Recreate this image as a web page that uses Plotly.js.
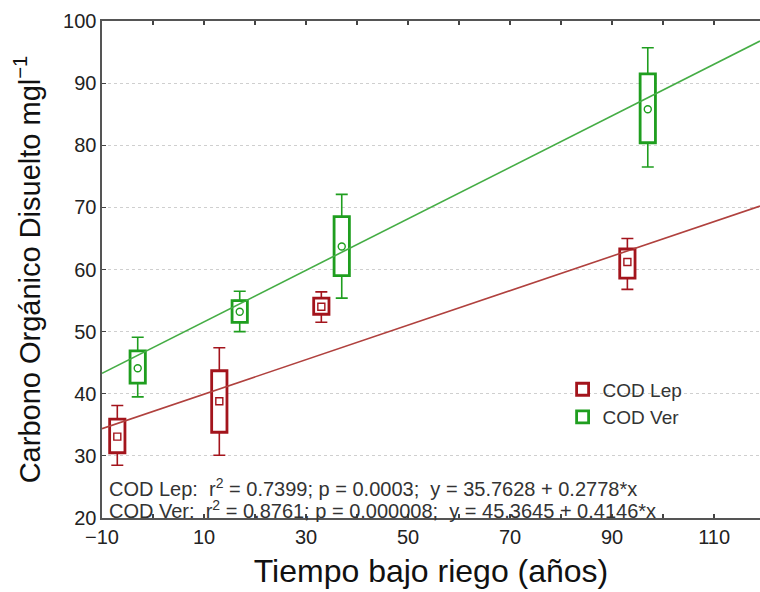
<!DOCTYPE html>
<html>
<head>
<meta charset="utf-8">
<script src="https://cdn.plot.ly/plotly-3.0.1.min.js"></script>
<style>
html,body{margin:0;padding:0;background:#fff;overflow:hidden;}
#chart{width:760px;height:592px;}
</style>
</head>
<body>
<div id="chart"></div>
<script>
// ---- data ----
const tiempo = [0, 20, 40, 100];            // years under irrigation (groups)
const seriesNames = ['COD Lep', 'COD Ver'];

const lepMin = [28.5, 30.1, 51.5, 56.8];
const lepQ1  = [30.5, 33.8, 52.8, 58.6];
const lepMed = [33.1, 38.8, 54.0, 61.2];
const lepQ3  = [35.9, 43.7, 55.4, 63.3];
const lepMax = [38.1, 47.4, 56.4, 65.0];

const verMin = [39.5, 50.0, 55.4, 76.5];
const verQ1  = [41.7, 51.5, 59.0, 80.4];
const verMed = [44.1, 53.2, 63.7, 85.8];
const verQ3  = [46.9, 55.0, 68.5, 91.5];
const verMax = [49.1, 56.5, 72.1, 95.7];

const fitR2 = ['0.7399', '0.8761'];
const fitP  = ['0.0003', '0.000008'];
const fitA  = [35.7628, 45.3645];
const fitB  = [0.2778, 0.4146];

const xTickVals = [-10, 10, 30, 50, 70, 90, 110];
const yTickVals = [20, 30, 40, 50, 60, 70, 80, 90, 100];

// ---- presentation ----
const RED = '#a3141c', GREEN = '#1f9e1f';
const RED_LINE = '#b0413e', GREEN_LINE = '#45ad45';
const X_MIN = -10, X_MAX = 119.0;
const SHIFT = -5;      // group centre offset used in the original plot
const DODGE = 2;       // side-by-side offset of the two series
const FONT = 'Liberation Sans, Arial, sans-serif';

function sub(a, b) { return a.map((v, i) => v - b[i]); }
const zeros = tiempo.map(() => 0);

function series(k, color, q1, med, q3, mn, mx, symbol) {
  const xs = tiempo.map(t => t + SHIFT + (k === 0 ? -DODGE : DODGE));
  const out = [];
  out.push({
    type: 'bar', name: seriesNames[k], x: xs, base: q1, y: sub(q3, q1), width: 3,
    marker: {color: '#ffffff', line: {color: color, width: 2.8}},
    hoverinfo: 'skip', showlegend: true, legendgroup: seriesNames[k]
  });
  out.push({
    type: 'scatter', mode: 'markers', x: xs, y: q3, showlegend: false, hoverinfo: 'skip',
    marker: {color: 'rgba(0,0,0,0)', size: 1},
    error_y: {type: 'data', symmetric: false, array: sub(mx, q3), arrayminus: zeros,
              width: 6, thickness: 1.6, color: color}
  });
  out.push({
    type: 'scatter', mode: 'markers', x: xs, y: q1, showlegend: false, hoverinfo: 'skip',
    marker: {color: 'rgba(0,0,0,0)', size: 1},
    error_y: {type: 'data', symmetric: false, array: zeros, arrayminus: sub(q1, mn),
              width: 6, thickness: 1.6, color: color}
  });
  out.push({
    type: 'scatter', mode: 'markers', x: xs, y: med, showlegend: false, hoverinfo: 'skip',
    marker: {symbol: symbol, size: 7, color: color, line: {color: color, width: 1.4}}
  });
  return out;
}

function fitLine(k, color) {
  const xs = [X_MIN, X_MAX];
  return {
    type: 'scatter', mode: 'lines', x: xs,
    y: xs.map(x => fitA[k] + fitB[k] * (x - SHIFT)),
    line: {color: color, width: 1.6}, showlegend: false, hoverinfo: 'skip'
  };
}

const data = [
  fitLine(0, RED_LINE), fitLine(1, GREEN_LINE),
  ...series(0, RED, lepQ1, lepMed, lepQ3, lepMin, lepMax, 'square-open'),
  ...series(1, GREEN, verQ1, verMed, verQ3, verMin, verMax, 'circle-open')
];

const nb = '\u00a0';
function eqText(k) {
  return seriesNames[k] + ':' + nb + nb + 'r<sup>2</sup> = ' + fitR2[k] + '; p = ' + fitP[k] +
    ';' + nb + nb + 'y = ' + fitA[k].toFixed(4) + ' + ' + fitB[k].toFixed(4) + '*x';
}

const layout = {
  width: 760, height: 592,
  margin: {l: 102, r: 0, t: 21, b: 74},
  paper_bgcolor: '#fff', plot_bgcolor: '#fff',
  font: {family: FONT, color: '#222'},
  barmode: 'overlay',
  showlegend: true,
  legend: {x: 0.70, xanchor: 'left', y: 0.297, yanchor: 'top',
           font: {family: FONT, size: 19, color: '#333'}, bgcolor: 'rgba(0,0,0,0)',
           tracegroupgap: 0},
  xaxis: {
    range: [X_MIN, X_MAX], tickmode: 'array', tickvals: xTickVals,
    ticks: 'inside', ticklen: 4, tickcolor: '#444', tickwidth: 1.2,
    minor: {dtick: 10, tick0: -10, ticks: 'inside', ticklen: 4, tickcolor: '#444', showgrid: false},
    showline: true, linecolor: '#555', linewidth: 1.6, mirror: 'ticks',
    showgrid: false, zeroline: false,
    tickfont: {family: FONT, size: 20, color: '#222'},
    title: {text: 'Tiempo bajo riego (años)', font: {family: FONT, size: 32, color: '#111'}, standoff: 13}
  },
  yaxis: {
    range: [20, 100], tickmode: 'array', tickvals: yTickVals,
    ticks: 'inside', ticklen: 4, tickcolor: '#444',
    showline: true, linecolor: '#555', linewidth: 1.6, mirror: false,
    showgrid: true, gridcolor: '#cfcfcf', griddash: 'dot', gridwidth: 1, zeroline: false,
    tickfont: {family: FONT, size: 20, color: '#222'},
    title: {text: 'Carbono Orgánico Disuelto mgl<sup>−1</sup>', font: {family: FONT, size: 29, color: '#111'}, standoff: 14}
  },
  annotations: [0, 1].map(k => ({
    xref: 'paper', yref: 'paper', x: 0.008, y: 0, xanchor: 'left', yanchor: 'middle',
    yshift: k === 0 ? 31 : 9, showarrow: false, text: eqText(k),
    font: {family: FONT, size: 20, color: '#333'}
  }))
};

Plotly.newPlot('chart', data, layout, {displayModeBar: false, staticPlot: true});
</script>
</body>
</html>
